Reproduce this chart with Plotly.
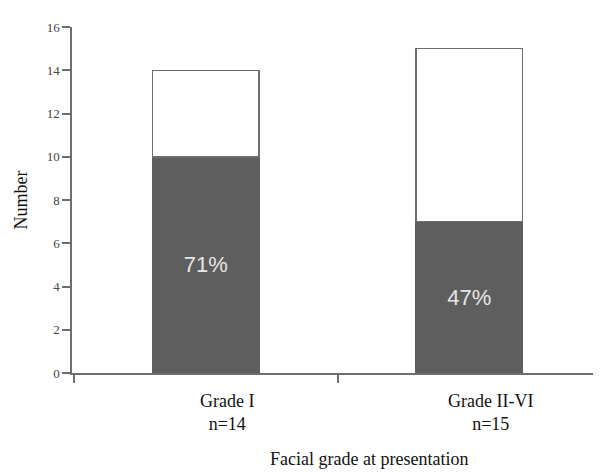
import plotly.graph_objects as go

categories = ["Grade I", "Grade II-VI"]
n_labels = ["n=14", "n=15"]
totals = [14, 15]
dark_counts = [10, 7]
percent_labels = ["71%", "47%"]
y_ticks = [0, 2, 4, 6, 8, 10, 12, 14, 16]

rest_counts = [t - d for t, d in zip(totals, dark_counts)]
xpos = list(range(len(categories)))

SERIF = "Liberation Serif, Times New Roman, serif"
SANS = "Liberation Sans, Arial, sans-serif"
LINE = "#6e6e6e"

fig = go.Figure()
fig.add_trace(go.Bar(
    x=xpos, y=dark_counts, width=0.405,
    marker=dict(color="#5e5e5e", line=dict(color="#5e5e5e", width=1)),
    text=percent_labels, textposition="inside", insidetextanchor="middle",
    textfont=dict(family=SANS, size=22, color="#e6e6e6"),
    hoverinfo="skip", showlegend=False,
))
fig.add_trace(go.Bar(
    x=xpos, y=rest_counts, width=0.405,
    marker=dict(color="white", line=dict(color=LINE, width=1.5)),
    hoverinfo="skip", showlegend=False,
))

for i, (c, n) in enumerate(zip(categories, n_labels)):
    fig.add_annotation(
        x=i, xref="x", y=0, yref="paper", yanchor="top", yshift=-16, xshift=21,
        text=f"{c}<br>{n}", showarrow=False,
        font=dict(family=SERIF, size=18, color="#111"),
    )

fig.add_annotation(
    x=0.57, xref="paper", y=0, yref="paper", yanchor="middle", yshift=-86,
    text="Facial grade at presentation", showarrow=False,
    font=dict(family=SERIF, size=18, color="#111"),
)

fig.update_layout(
    barmode="stack",
    width=605, height=465,
    margin=dict(l=58, r=20, t=12, b=100),
    paper_bgcolor="white", plot_bgcolor="white",
    xaxis=dict(
        range=[-0.508, 1.47], tickvals=[-0.5, 0.5], ticktext=["", ""],
        ticks="outside", ticklen=8, tickcolor=LINE, tickwidth=1.5,
        showline=True, linecolor=LINE, linewidth=1.5, showgrid=False, zeroline=False,
    ),
    yaxis=dict(
        range=[0, 16], tickvals=y_ticks,
        ticks="outside", ticklen=8, tickcolor=LINE, tickwidth=1.5,
        tickfont=dict(family=SERIF, size=13, color="#444"),
        showline=True, linecolor=LINE, linewidth=1.5, showgrid=False, zeroline=False,
        title=dict(text="Number", standoff=14,
                   font=dict(family=SERIF, size=18, color="#111")),
    ),
)

fig.write_html("out.html")
